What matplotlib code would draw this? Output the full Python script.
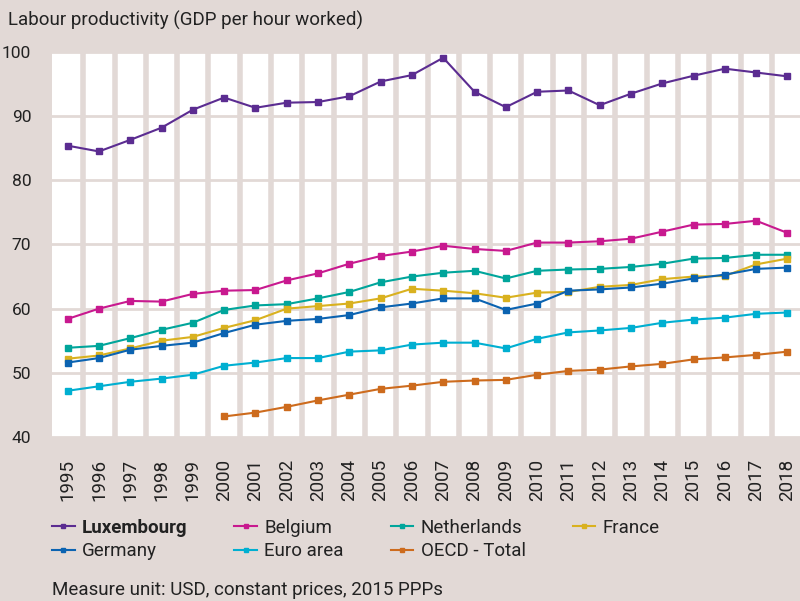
import matplotlib.pyplot as plt
import numpy as np

plt.rcParams['font.family'] = ['Roboto', 'DejaVu Sans']

# data
years = list(range(1995, 2019))
luxembourg = [85.4, 84.5, 86.3, 88.2, 91.0, 92.9, 91.3, 92.1, 92.2, 93.1, 95.4, 96.4,
              99.1, 93.8, 91.4, 93.8, 94.0, 91.7, 93.5, 95.1, 96.3, 97.4, 96.8, 96.2]
belgium = [58.4, 60.0, 61.2, 61.1, 62.3, 62.8, 62.9, 64.4, 65.5, 67.0, 68.2, 68.9,
           69.8, 69.3, 69.0, 70.3, 70.3, 70.5, 70.9, 72.0, 73.1, 73.2, 73.7, 71.8]
netherlands = [53.9, 54.2, 55.4, 56.7, 57.8, 59.8, 60.5, 60.7, 61.6, 62.6, 64.1, 65.0,
               65.6, 65.9, 64.7, 65.9, 66.1, 66.2, 66.5, 67.0, 67.8, 67.9, 68.4, 68.4]
france = [52.2, 52.7, 53.8, 55.0, 55.6, 57.0, 58.2, 60.0, 60.4, 60.8, 61.6, 63.1,
          62.8, 62.4, 61.7, 62.5, 62.6, 63.4, 63.7, 64.6, 65.0, 65.1, 66.9, 67.8]
germany = [51.6, 52.3, 53.6, 54.2, 54.7, 56.2, 57.5, 58.1, 58.4, 59.0, 60.2, 60.8,
           61.6, 61.6, 59.8, 60.8, 62.8, 63.0, 63.3, 63.9, 64.7, 65.3, 66.2, 66.4]
euro_area = [47.2, 47.9, 48.6, 49.1, 49.7, 51.1, 51.6, 52.3, 52.3, 53.3, 53.5, 54.4,
             54.7, 54.7, 53.8, 55.3, 56.3, 56.6, 57.0, 57.8, 58.3, 58.6, 59.2, 59.4]
oecd_years = list(range(2000, 2019))
oecd = [43.2, 43.8, 44.7, 45.7, 46.6, 47.5, 48.0, 48.6, 48.8, 48.9, 49.7, 50.3,
        50.5, 51.0, 51.4, 52.1, 52.4, 52.8, 53.3]

bg = '#e2d9d6'
txt = '#222222'
fs = 13.5
fig = plt.figure(figsize=(8, 6.01), dpi=100, facecolor=bg)
ax = fig.add_axes([0.065, 0.2729, 0.935, 0.6406])
ax.set_facecolor('white')

series = [
    ('Luxembourg', years, luxembourg, '#5b2c91'),
    ('Belgium', years, belgium, '#c8198f'),
    ('Netherlands', years, netherlands, '#00a59b'),
    ('France', years, france, '#d9b11f'),
    ('Germany', years, germany, '#0b63b1'),
    ('Euro area', years, euro_area, '#00afd1'),
    ('OECD - Total', oecd_years, oecd, '#cd6b1d'),
]
lines = {}
for name, x, y, c in series:
    ln, = ax.plot(x, y, color=c, lw=1.5, marker='s', markersize=4, label=name)
    lines[name] = ln

ax.set_xlim(1994.5, 2018.4)
ax.set_ylim(40, 100)
ax.set_yticks(range(40, 101, 10))
ax.set_xticks(years)
ax.set_xticklabels([str(y) for y in years], rotation=90, fontsize=fs, color=txt)
ax.set_xticks(np.arange(1995.5, 2018, 1), minor=True)
ax.tick_params(axis='both', which='both', length=0)
ax.tick_params(axis='x', pad=16)
ax.tick_params(axis='y', pad=15, labelsize=12.5, labelcolor=txt)
ax.grid(axis='x', which='minor', color=bg, lw=4)
ax.grid(axis='y', which='major', color=bg, lw=2)
ax.set_axisbelow(True)
for s in ax.spines.values():
    s.set_visible(False)

order = ['Luxembourg', 'Germany', 'Belgium', 'Euro area', 'Netherlands', 'OECD - Total', 'France']
leg = fig.legend([lines[n] for n in order], order, ncol=4, loc='upper left',
                 bbox_to_anchor=(0.044, 1 - 502 / 601), frameon=False, fontsize=fs,
                 handlelength=1.2, handletextpad=0.4, columnspacing=2.5,
                 labelspacing=0.3, labelcolor=txt, markerscale=0.8)
for t in leg.get_texts():
    if t.get_text() == 'Luxembourg':
        t.set_fontweight('bold')

fig.text(0.01, 1 - 20 / 601, 'Labour productivity (GDP per hour worked)',
         fontsize=fs, va='center', color=txt)
fig.text(0.065, 1 - 590 / 601, 'Measure unit: USD, constant prices, 2015 PPPs',
         fontsize=fs, va='center', color=txt)

fig.savefig('out.png', dpi=100, facecolor=bg)
